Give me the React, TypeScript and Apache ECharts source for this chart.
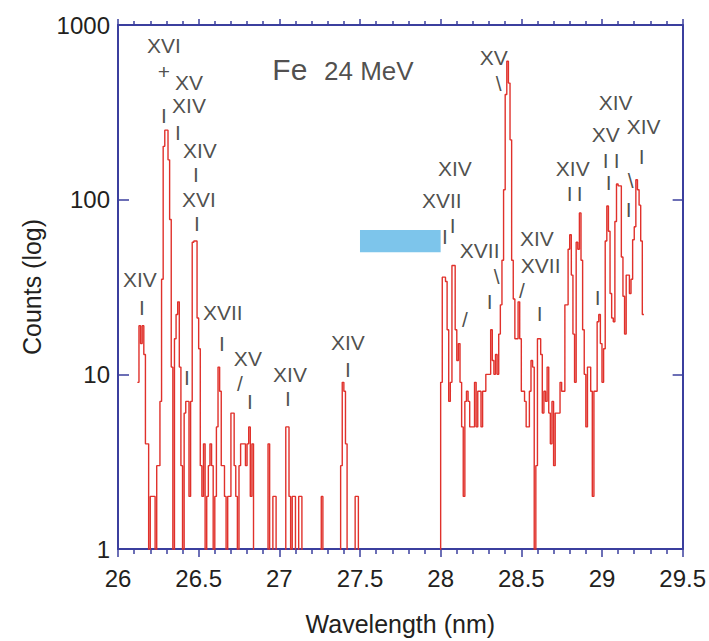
import React, { useEffect, useRef } from "react";
import * as echarts from "echarts";

// ---- data ----
const BIN_WIDTH = 0.01;
const ZERO_LEVEL = 0.3; // empty bins (below the log axis, clipped)

const startA = 26.12;
const countsA = [
  9, 19, 15, 19, 13, 4, 4, 0, 2, 2, 2, 0, 3, 3, 7, 35, 202, 250, 250, 169,
  77, 11, 0, 16, 22, 26, 11, 3, 0, 6, 7, 7, 2, 7, 57, 58, 58, 21, 14, 3,
  2, 4, 0, 2, 3, 4, 3, 0, 2, 5, 11, 8, 3, 3, 2, 0, 2, 2, 6, 6,
  3, 2, 0, 3, 4, 4, 4, 3, 4, 5, 2, 4, 0, 0, 0, 0, 0, 0, 0, 0,
  0, 4, 0, 0, 2, 2, 0, 0, 0, 0, 0, 0, 5, 5, 2, 0, 2, 2, 0, 0,
  2, 2, 0, 0, 0, 0, 0, 0, 0, 0, 0, 0, 0, 0, 2, 0, 0, 0, 0, 0,
  0, 0, 0, 0, 0, 0, 3, 9, 8, 4, 0, 0, 0, 0, 0, 2, 2,
];

const startB = 28.0;
const countsB = [
  9, 36, 36, 34, 18, 7, 9, 42, 42, 18, 12, 15, 9, 5, 2, 7, 8, 7, 5, 5,
  5, 9, 5, 8, 8, 5, 8, 8, 10, 10, 10, 18, 12, 10, 13, 10, 17, 25, 45, 114,
  400, 620, 465, 220, 45, 27, 16, 16, 26, 16, 8, 8, 7, 5, 5, 8, 12, 11, 0, 3,
  16, 16, 13, 6, 8, 7, 11, 6, 4, 7, 3, 6, 6, 6, 9, 8, 8, 25, 25, 52,
  63, 37, 17, 9, 57, 52, 84, 45, 18, 10, 5, 11, 11, 8, 2, 8, 8, 20, 22, 15,
  9, 14, 58, 92, 66, 29, 21, 20, 75, 123, 120, 120, 47, 28, 17, 37, 37, 29, 35, 59,
  70, 130, 114, 93, 58, 22,
];

const xMin = 26;
const xMax = 29.5;
const xInterval = 0.5;
const yMin = 1;
const yMax = 1000;

// highlighted band (wavelength range, counts range)
const bandX = [27.5, 28.0];
const bandY = [50, 67];

// ion-stage annotations: [text, wavelength, counts]
const annotations: [string, number, number][] = [
  ["XVI", 26.285, 759],
  ["+", 26.285, 539],
  ["XV", 26.44, 466],
  ["XIV", 26.44, 344],
  ["I", 26.285, 305],
  ["I", 26.372, 244],
  ["XIV", 26.508, 192],
  ["I", 26.483, 140],
  ["XVI", 26.502, 100],
  ["I", 26.489, 73.5],
  ["XIV", 26.136, 34.9],
  ["I", 26.149, 24],
  ["I", 26.427, 9.6],
  ["XVII", 26.65, 22.6],
  ["I", 26.644, 15],
  ["XV", 26.805, 12.3],
  ["/", 26.756, 8.9],
  ["I", 26.818, 7.0],
  ["XIV", 27.066, 10],
  ["I", 27.053, 7.3],
  ["XIV", 27.425, 15.2],
  ["I", 27.425, 10.6],
  ["XIV", 28.088, 150],
  ["XVII", 28.007, 99],
  ["I", 28.026, 61.5],
  ["I", 28.075, 71],
  ["XVII", 28.242, 51],
  ["\\", 28.348, 36.5],
  ["/", 28.15, 20.6],
  ["I", 28.304, 26.1],
  ["XV", 28.329, 648],
  ["\\", 28.36, 465],
  ["XIV", 28.596, 60],
  ["XVII", 28.62, 42],
  ["/", 28.503, 30],
  ["I", 28.614, 22.3],
  ["XIV", 28.819, 150],
  ["I", 28.8, 109],
  ["I", 28.862, 109],
  ["XIV", 29.085, 358],
  ["XV", 29.023, 237],
  ["I", 29.023, 167],
  ["I", 29.091, 167],
  ["I", 29.042, 126],
  ["XIV", 29.258, 261],
  ["I", 29.246, 176],
  ["\\", 29.178, 129],
  ["I", 29.166, 87.7],
  ["I", 28.973, 27.5],
];

// title pieces: [text, wavelength, counts, fontSize]
const titleParts: [string, number, number, number][] = [
  ["Fe", 27.065, 553, 30],
  ["24 MeV", 27.555, 546, 26],
];

const AXIS_COLOR = "#3b3f9e";
const LINE_COLOR = "#e0312b";
const TEXT_COLOR = "#231f20";
const FONT = "'Liberation Sans', Arial, sans-serif";

function buildSteps(): [number, number][] {
  const pts: [number, number][] = [];
  const push = (start: number, counts: number[], closeToZero: boolean) => {
    counts.forEach((c, i) => {
      pts.push([+(start + i * BIN_WIDTH).toFixed(3), c > 0 ? c : ZERO_LEVEL]);
    });
    const endX = +(start + counts.length * BIN_WIDTH).toFixed(3);
    const last = counts[counts.length - 1];
    pts.push([endX, closeToZero ? ZERO_LEVEL : last > 0 ? last : ZERO_LEVEL]);
  };
  push(startA, countsA, true);
  push(startB, countsB, false);
  return pts;
}

export default function App() {
  const ref = useRef<HTMLDivElement>(null);

  useEffect(() => {
    document.body.style.margin = "0";
    if (!ref.current) return;
    const chart = echarts.init(ref.current, undefined, { renderer: "svg" });

    const axisLine = { show: true, lineStyle: { color: AXIS_COLOR, width: 2 } };
    const tickStyle = { color: AXIS_COLOR, width: 1.5 };

    const option: any = {
      animation: false,
      backgroundColor: "#ffffff",
      grid: { left: 118, right: 26, top: 25, bottom: 91, containLabel: false },
      xAxis: [
        {
          type: "value",
          min: xMin,
          max: xMax,
          interval: xInterval,
          position: "bottom",
          name: "Wavelength (nm)",
          nameLocation: "middle",
          nameGap: 62,
          nameTextStyle: { fontSize: 25, color: TEXT_COLOR, fontFamily: FONT },
          axisLine,
          axisTick: { show: true, inside: false, length: 8, lineStyle: tickStyle },
          minorTick: { show: true, splitNumber: 5, length: 5, lineStyle: tickStyle },
          axisLabel: {
            fontSize: 24,
            color: TEXT_COLOR,
            fontFamily: FONT,
            margin: 17,
            formatter: (v: number) => String(+v.toFixed(1)),
          },
          splitLine: { show: false },
          minorSplitLine: { show: false },
        },
        {
          type: "value",
          min: xMin,
          max: xMax,
          interval: xInterval,
          position: "top",
          axisLine,
          axisTick: { show: true, inside: false, length: 6, lineStyle: tickStyle },
          minorTick: { show: true, splitNumber: 5, length: 4, lineStyle: tickStyle },
          axisLabel: { show: false },
          splitLine: { show: false },
        },
      ],
      yAxis: [
        {
          type: "log",
          logBase: 10,
          min: yMin,
          max: yMax,
          position: "left",
          name: "Counts (log)",
          nameLocation: "middle",
          nameGap: 74,
          nameRotate: 90,
          nameTextStyle: { fontSize: 25, color: TEXT_COLOR, fontFamily: FONT },
          axisLine,
          axisTick: { show: true, inside: true, length: 11, lineStyle: tickStyle },
          minorTick: { show: false },
          axisLabel: {
            fontSize: 24,
            color: TEXT_COLOR,
            fontFamily: FONT,
            margin: 8,
            formatter: (v: number) => String(Math.round(v)),
          },
          splitLine: { show: false },
        },
        {
          type: "log",
          logBase: 10,
          min: yMin,
          max: yMax,
          position: "right",
          axisLine,
          axisTick: { show: true, inside: true, length: 10, lineStyle: tickStyle },
          axisLabel: { show: false },
          splitLine: { show: false },
        },
      ],
      series: [
        {
          type: "line",
          step: "end",
          data: buildSteps(),
          xAxisIndex: 0,
          yAxisIndex: 0,
          symbol: "none",
          showSymbol: false,
          clip: true,
          lineStyle: { color: LINE_COLOR, width: 1.4 },
          z: 3,
          markArea: {
            silent: true,
            itemStyle: { color: "#7dc5eb", opacity: 1 },
            data: [[{ coord: [bandX[0], bandY[0]] }, { coord: [bandX[1], bandY[1]] }]],
          },
        },
        {
          type: "scatter",
          xAxisIndex: 0,
          yAxisIndex: 0,
          silent: true,
          symbolSize: 1,
          itemStyle: { color: "rgba(0,0,0,0)" },
          label: {
            show: true,
            position: "inside",
            formatter: "{b}",
            fontSize: 21,
            lineHeight: 16,
            color: TEXT_COLOR,
            fontFamily: FONT,
          },
          data: [
            ...annotations.map(([t, x, y]) => ({ name: t, value: [x, y] })),
            ...titleParts.map(([t, x, y, fs]) => ({
              name: t,
              value: [x, y],
              label: { fontSize: fs, lineHeight: fs },
            })),
          ],
          z: 5,
        },
      ],
    };

    chart.setOption(option);
    return () => chart.dispose();
  }, []);

  return <div ref={ref} style={{ width: 709, height: 641 }} />;
}
